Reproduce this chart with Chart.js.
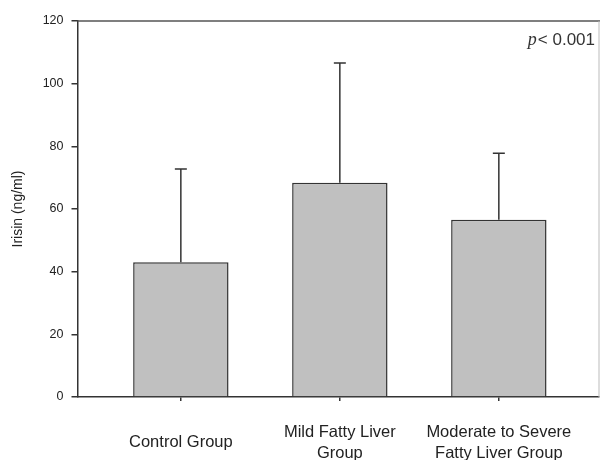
<!DOCTYPE html>
<html><head><meta charset="utf-8">
<script src="https://cdn.jsdelivr.net/npm/chart.js@4.4.0/dist/chart.umd.min.js"></script>
<style>html,body{margin:0;padding:0;background:#fff}#wrap{width:600px;height:460px;position:relative}</style>
</head><body><div id="wrap"><canvas id="c"></canvas></div>
<script>
// ---- data ----
const categories = ["Control Group", ["Mild Fatty Liver", "Group"], ["Moderate to Severe", "Fatty Liver Group"]];
const positions = [1, 2, 3];
const means = [43.0, 68.4, 56.6];
const sds = [29.8, 38.2, 21.2];
const yTicks = [0, 20, 40, 60, 80, 100, 120];
const yTitle = "Irisin (ng/ml)";
const pItalic = "p";
const pRest = "< 0.001";

const errorBars = {
  id: 'errorBars',
  afterDatasetsDraw(chart) {
    const {ctx, scales: {y}} = chart;
    const meta = chart.getDatasetMeta(0);
    ctx.save();
    ctx.strokeStyle = '#333';
    ctx.lineWidth = 1.5;
    meta.data.forEach((bar, i) => {
      const top = y.getPixelForValue(means[i] + sds[i]);
      ctx.beginPath();
      ctx.moveTo(bar.x, bar.y);
      ctx.lineTo(bar.x, top);
      ctx.moveTo(bar.x - 6, top);
      ctx.lineTo(bar.x + 6, top);
      ctx.stroke();
    });
    ctx.restore();
  }
};

const frame = {
  id: 'frame',
  afterDraw(chart) {
    const {ctx, chartArea: a} = chart;
    ctx.save();
    ctx.lineWidth = 1.5;
    ctx.strokeStyle = '#555';
    ctx.beginPath();
    ctx.moveTo(a.left, a.top);
    ctx.lineTo(chart.width, a.top);
    ctx.stroke();
    ctx.lineWidth = 1;
    ctx.strokeStyle = '#bbb';
    ctx.beginPath();
    ctx.moveTo(a.right, a.top);
    ctx.lineTo(a.right, a.bottom);
    ctx.stroke();
    // p-value annotation
    ctx.fillStyle = '#333';
    ctx.textBaseline = 'middle';
    ctx.font = '17px "Liberation Sans", Arial, sans-serif';
    const wRest = ctx.measureText(pRest).width;
    const xr = a.right - 4;
    const yy = a.top + 19;
    ctx.textAlign = 'right';
    ctx.fillText(pRest, xr, yy);
    ctx.font = 'italic 18px "Liberation Serif", "Times New Roman", serif';
    ctx.fillText(pItalic, xr - wRest - 1, yy);
    ctx.restore();
  }
};

new Chart(document.getElementById('c'), {
  type: 'bar',
  data: {
    datasets: [{
      data: positions.map((p, i) => ({x: p, y: means[i]})),
      backgroundColor: '#c0c0c0',
      borderColor: '#333',
      borderWidth: 1.5,
      barPercentage: 0.6,
      categoryPercentage: 1.0
    }]
  },
  options: {
    responsive: true,
    maintainAspectRatio: false,
    animation: false,
    layout: {padding: {top: 21, right: 1, left: 0, bottom: 0}},
    plugins: {legend: {display: false}, tooltip: {enabled: false}},
    scales: {
      x: {
        type: 'linear',
        offset: false,
        min: 0.35,
        max: 3.63,
        afterBuildTicks(scale) { scale.ticks = positions.map(v => ({value: v})); },
        afterFit(scale) { scale.height = 63; scale.paddingRight = 0; scale.paddingLeft = 0; },
        grid: {offset: false, drawOnChartArea: false, drawTicks: true, tickLength: 4, color: '#333', lineWidth: 1.5},
        border: {color: '#333', width: 1.5},
        ticks: {
          autoSkip: false,
          maxRotation: 0,
          minRotation: 0,
          padding: 31,
          crossAlign: 'center',
          color: '#222',
          font: {family: '"Liberation Sans", Arial, sans-serif', size: 16.5, lineHeight: 1.27},
          callback: (v) => categories[positions.indexOf(v)]
        }
      },
      y: {
        min: 0,
        max: 120,
        afterBuildTicks(scale) { scale.ticks = yTicks.map(v => ({value: v})); },
        afterFit(scale) { scale.width = 77.5; },
        grid: {drawOnChartArea: false, drawTicks: true, tickLength: 6, color: '#333', lineWidth: 1.5},
        border: {color: '#333', width: 1.5},
        ticks: {
          padding: 8,
          color: '#222',
          font: {family: '"Liberation Sans", Arial, sans-serif', size: 12.5}
        },
        title: {
          display: true,
          text: yTitle,
          color: '#222',
          padding: {top: 10, bottom: 0},
          font: {family: '"Liberation Sans", Arial, sans-serif', size: 14}
        }
      }
    }
  },
  plugins: [errorBars, frame]
});
</script>
</body></html>
